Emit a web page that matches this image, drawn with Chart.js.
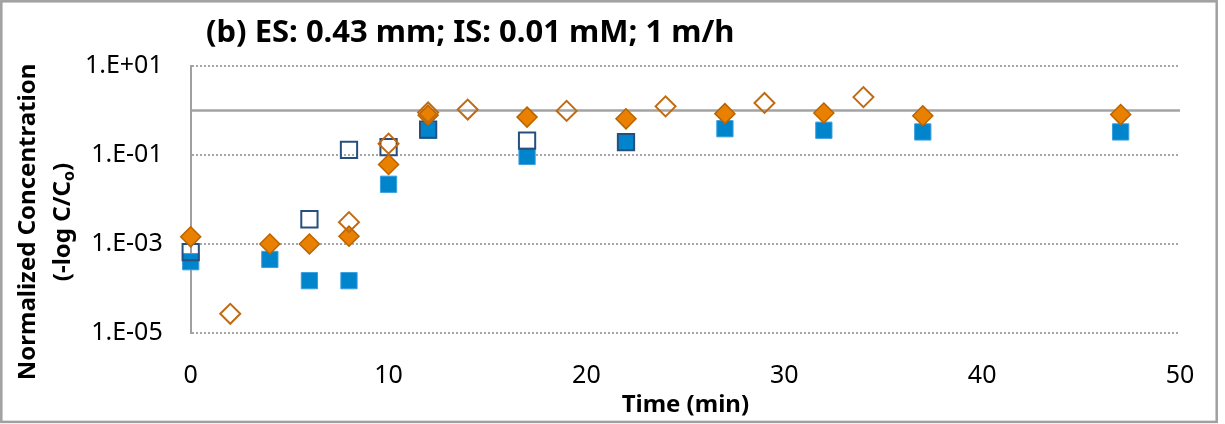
<!DOCTYPE html>
<html>
<head>
<meta charset="utf-8">
<script src="https://cdn.jsdelivr.net/npm/chart.js@4.4.1/dist/chart.umd.min.js"></script>
<style>
  html, body { margin: 0; padding: 0; background: #fff; }
  canvas { display: block; }
</style>
</head>
<body>
<canvas id="chart" width="1225" height="424"></canvas>
<script>
const titleText = '(b) ES: 0.43 mm; IS: 0.01 mM; 1 m/h';
const xTitle = 'Time (min)';
const yTitle = 'Normalized Concentration';

const yTickValues = [1e-5, 1e-3, 1e-1, 1e1];
const yTickLabels = ['1.E-05', '1.E-03', '1.E-01', '1.E+01'];

// filled blue squares
const blueTime = [0, 4, 6, 8, 10, 12, 17, 22, 27, 32, 37, 47];
const blueConc = [4.0e-4, 4.5e-4, 1.5e-4, 1.5e-4, 0.022, 0.36, 0.093, 0.195, 0.39, 0.36, 0.33, 0.33];

// open navy squares
const navyTime = [0, 6, 8, 10, 12, 17, 22];
const navyConc = [6.6e-4, 3.6e-3, 0.13, 0.15, 0.37, 0.21, 0.195];

// filled orange diamonds
const orangeTime = [0, 4, 6, 8, 10, 12, 17, 22, 27, 32, 37, 47];
const orangeConc = [1.45e-3, 1.0e-3, 1.0e-3, 1.5e-3, 0.061, 0.78, 0.71, 0.65, 0.85, 0.88, 0.76, 0.81];

// open orange diamonds
const openTime = [2, 8, 10, 12, 14, 19, 24, 29, 34];
const openConc = [2.7e-5, 3.1e-3, 0.18, 0.9, 1.05, 0.98, 1.24, 1.48, 2.0];

// C/Co = 1 line
const refTime = [0, 50];
const refConc = [1, 1];

const FONT = "'Noto Sans', 'Open Sans', sans-serif";
const pts = (xs, ys) => xs.map((x, i) => ({ x, y: ys[i] }));

// frame, title and the two-line y title (with subscript o)
const decor = {
  id: 'decor',
  beforeDraw(chart) {
    const ctx = chart.ctx;
    ctx.save();
    ctx.fillStyle = '#fff';
    ctx.fillRect(0, 0, chart.width, chart.height);
    ctx.strokeStyle = '#a0a0a0';
    ctx.lineWidth = 2.5;
    ctx.strokeRect(1.3, 1.3, 1215.4, 420.6);
    ctx.restore();
  },
  afterDraw(chart) {
    const ctx = chart.ctx;
    const area = chart.chartArea;
    ctx.save();
    ctx.fillStyle = '#000';
    ctx.textBaseline = 'middle';

    ctx.font = 'bold 31px ' + FONT;
    ctx.textAlign = 'left';
    ctx.fillText(titleText, 206, 33);

    ctx.font = 'bold 24px ' + FONT;
    ctx.textAlign = 'center';
    ctx.fillText(xTitle, (area.left + area.right) / 2, 405);

    const cy = 222;
    ctx.translate(28, cy);
    ctx.rotate(-Math.PI / 2);
    ctx.fillText(yTitle, 0, 0);
    ctx.restore();

    ctx.save();
    ctx.fillStyle = '#000';
    ctx.textBaseline = 'middle';
    ctx.translate(63, cy);
    ctx.rotate(-Math.PI / 2);
    const big = 'bold 24px ' + FONT, small = 'bold 16px ' + FONT;
    const parts = [['(-log C/C', big, 0], ['o', small, 6], [')', big, 0]];
    let w = 0;
    parts.forEach(p => { ctx.font = p[1]; w += ctx.measureText(p[0]).width; });
    let x = -w / 2;
    ctx.textAlign = 'left';
    parts.forEach(p => {
      ctx.font = p[1];
      ctx.fillText(p[0], x, p[2]);
      x += ctx.measureText(p[0]).width;
    });
    ctx.restore();
  }
};

new Chart(document.getElementById('chart'), {
  type: 'scatter',
  data: {
    datasets: [
      {
        data: pts(refTime, refConc), showLine: true, pointRadius: 0,
        borderColor: '#a3a3a3', borderWidth: 2.5, order: 10, clip: false
      },
      {
        data: pts(blueTime, blueConc), pointStyle: 'rect', pointRadius: 11.5,
        backgroundColor: '#0084cc', borderColor: '#3a9fe0', borderWidth: 1, order: 4, clip: false
      },
      {
        data: pts(navyTime, navyConc), pointStyle: 'rect', pointRadius: 11.5,
        backgroundColor: 'rgba(255,255,255,0)', borderColor: '#264f7d', borderWidth: 2, order: 3, clip: false
      },
      {
        data: pts(orangeTime, orangeConc), pointStyle: 'rectRot', pointRadius: 10,
        backgroundColor: '#ea8000', borderColor: '#b86400', borderWidth: 1.5, order: 2, clip: false
      },
      {
        data: pts(openTime, openConc), pointStyle: 'rectRot', pointRadius: 10,
        backgroundColor: 'rgba(255,255,255,0)', borderColor: '#c06a12', borderWidth: 2, order: 1, clip: false
      }
    ]
  },
  options: {
    responsive: false,
    animation: false,
    devicePixelRatio: 1,
    layout: { padding: { top: 66, right: 45, left: 0, bottom: 0 } },
    plugins: {
      legend: { display: false },
      tooltip: { enabled: false },
      title: { display: false }
    },
    scales: {
      x: {
        type: 'linear', min: 0, max: 50,
        ticks: { stepSize: 10, color: '#000', font: { family: FONT, size: 25 }, padding: 28 },
        grid: { display: false, drawTicks: false },
        border: { display: false },
        afterFit: s => { s.height = 91; }
      },
      y: {
        type: 'logarithmic', min: 1e-5, max: 10,
        afterBuildTicks: s => { s.ticks = yTickValues.map(v => ({ value: v })); },
        ticks: {
          color: '#000', font: { family: FONT, size: 25 }, padding: 28,
          callback: (v, i) => yTickLabels[i]
        },
        grid: { color: '#a6a6a6', lineWidth: 2, drawTicks: false },
        border: { display: true, color: '#a0a0a0', width: 2, dash: [2, 2] },
        afterFit: s => { s.width = 190.7; }
      }
    }
  },
  plugins: [decor]
});
</script>
</body>
</html>
